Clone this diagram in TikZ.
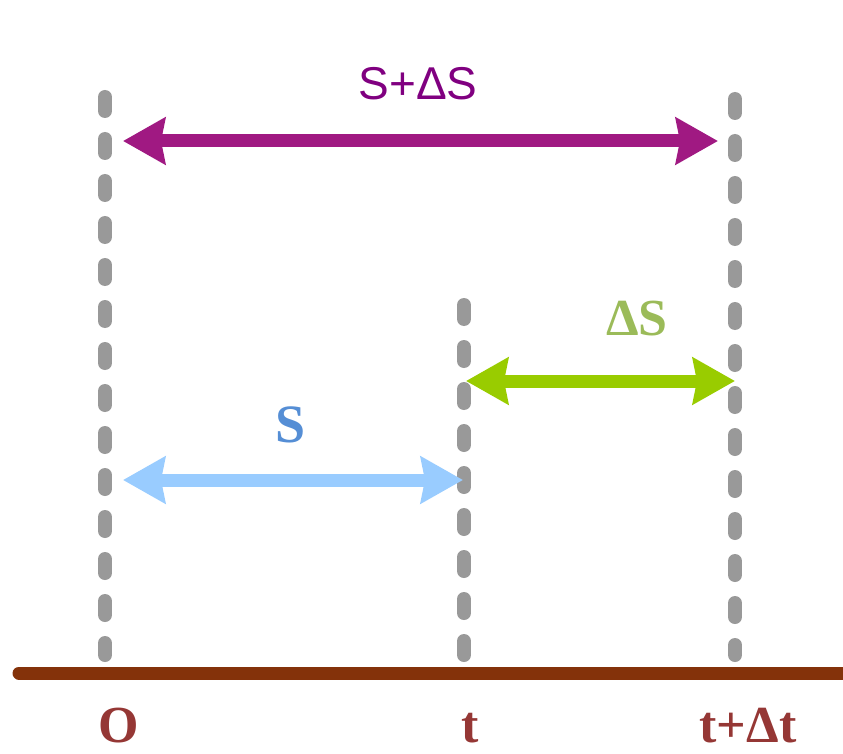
\documentclass[tikz,border=0pt]{standalone}
\usepackage{fontspec}
\setmainfont{Liberation Serif}
\setsansfont{Liberation Sans}
\usetikzlibrary{arrows.meta}
\definecolor{guide}{RGB}{153,153,153}
\definecolor{axisbrown}{RGB}{132,50,10}
\definecolor{totalarrow}{RGB}{160,25,130}
\definecolor{totaltext}{RGB}{128,0,128}
\definecolor{deltaarrow}{RGB}{153,204,0}
\definecolor{deltatext}{RGB}{155,187,89}
\definecolor{sarrow}{RGB}{153,204,255}
\definecolor{stext}{RGB}{85,142,213}
\definecolor{ticklabel}{RGB}{149,55,53}
\tikzset{
  guideline/.style={draw=guide, line width=14pt, line cap=round, dash pattern=on 14pt off 28pt},
  timeaxis/.style={draw=axisbrown, line width=13pt, line cap=round},
  span/.style={line width=13pt, {Stealth[length=42pt,width=46pt,inset=4pt]}-{Stealth[length=42pt,width=46pt,inset=4pt]}},
  ticktext/.style={font=\fontsize{52}{52}\selectfont\bfseries, text=ticklabel, anchor=base, inner sep=0pt},
}
\begin{document}
\begin{tikzpicture}[x=1pt,y=-1pt]
  \useasboundingbox (0,0) rectangle (843,754);
  % vertical guide lines
  \coordinate (g0top) at (105,97);
  \coordinate (g0bot) at (105,655);
  \coordinate (g1top) at (464,305);
  \coordinate (g1bot) at (464,655);
  \coordinate (g2top) at (735,99);
  \coordinate (g2bot) at (735,655);
  \draw[guideline] (g0top) -- (g0bot);
  \draw[guideline] (g1top) -- (g1bot);
  \draw[guideline] (g2top) -- (g2bot);
  % time axis
  \coordinate (axL) at (19,673);
  \coordinate (axR) at (870,673);
  \draw[timeaxis] (axL) -- (axR);
  % spans
  \coordinate (pL) at (123,141);
  \coordinate (pR) at (718,141);
  \draw[span, draw=totalarrow, fill=totalarrow] (pL) -- (pR);
  \coordinate (gL) at (466,381);
  \coordinate (gR) at (735,381);
  \draw[span, draw=deltaarrow, fill=deltaarrow] (gL) -- (gR);
  \coordinate (bL) at (123,480);
  \coordinate (bR) at (463,480);
  \draw[span, draw=sarrow, fill=sarrow] (bL) -- (bR);
  % labels
  \node[anchor=base, inner sep=0pt, text=totaltext, font=\sffamily\fontsize{46}{46}\selectfont] (lblTotal) at (418,100) {S+ΔS};
  \node[anchor=base, inner sep=0pt, text=deltatext, font=\fontsize{52}{52}\selectfont\bfseries] (lblDelta) at (637,335) {ΔS};
  \node[anchor=base, inner sep=0pt, text=stext, font=\fontsize{54}{54}\selectfont\bfseries] (lblS) at (291,442) {S};
  \node[ticktext] (t0) at (119,742) {O};
  \node[ticktext] (t1) at (470,742) {t};
  \node[ticktext] (t2) at (748,742) {t+Δt};
\end{tikzpicture}
\end{document}
